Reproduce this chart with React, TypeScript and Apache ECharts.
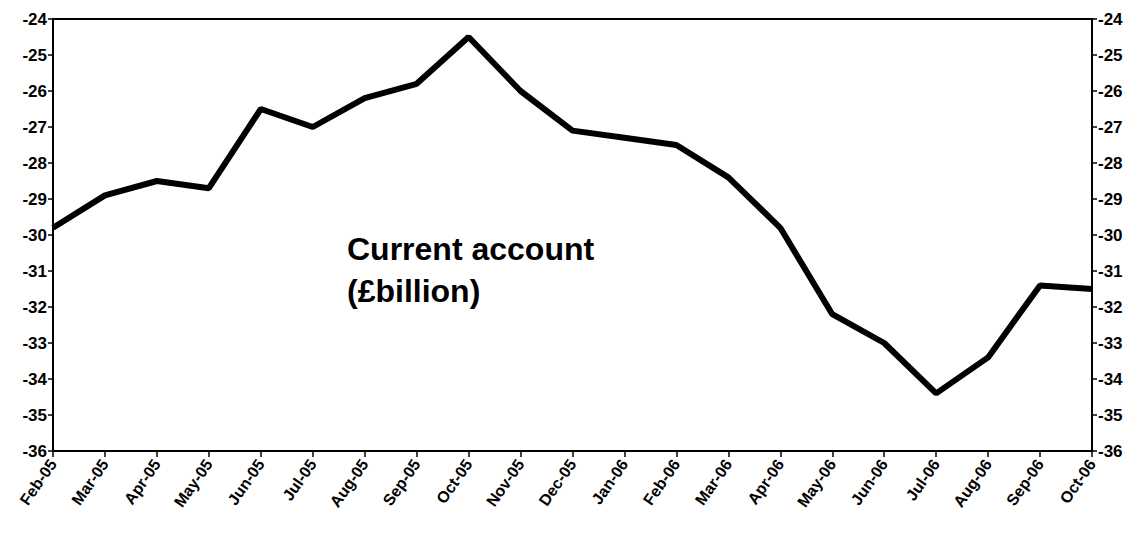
import { useEffect, useRef } from 'react';
import * as echarts from 'echarts';

const months = [
  'Feb-05', 'Mar-05', 'Apr-05', 'May-05', 'Jun-05', 'Jul-05', 'Aug-05', 'Sep-05', 'Oct-05', 'Nov-05',
  'Dec-05', 'Jan-06', 'Feb-06', 'Mar-06', 'Apr-06', 'May-06', 'Jun-06', 'Jul-06', 'Aug-06', 'Sep-06', 'Oct-06',
];
const currentAccount = [
  -29.8, -28.9, -28.5, -28.7, -26.5, -27.0, -26.2, -25.8, -24.5, -26.0,
  -27.1, -27.3, -27.5, -28.4, -29.8, -32.2, -33.0, -34.4, -33.4, -31.4, -31.5,
];

const font = 'Arial, "Liberation Sans", sans-serif';

export default function App() {
  const ref = useRef<HTMLDivElement>(null);

  useEffect(() => {
    document.body.style.margin = '0';
    if (!ref.current) return;
    const chart = echarts.init(ref.current, undefined, { renderer: 'svg' });
    const yAxisBase = {
      type: 'value' as const,
      min: -36,
      max: -24,
      interval: 1,
      axisLine: { show: true, lineStyle: { color: '#000', width: 2 } },
      axisTick: { show: true, length: 5, lineStyle: { color: '#000', width: 1.5 } },
      splitLine: { show: false },
      axisLabel: { color: '#000', fontWeight: 'bold' as const, fontSize: 17, fontFamily: font, margin: 6 },
    };
    chart.setOption({
      animation: false,
      grid: { left: 53, right: 53, top: 19, bottom: 90 },
      xAxis: {
        type: 'category',
        data: months,
        boundaryGap: false,
        axisLine: { lineStyle: { color: '#000', width: 2 } },
        axisTick: { show: true, length: 6, alignWithLabel: true, lineStyle: { color: '#000', width: 1.5 } },
        axisLabel: {
          color: '#000', fontWeight: 'bold', fontSize: 16, fontFamily: font,
          rotate: 55, interval: 0, margin: 10,
        },
      },
      yAxis: [
        { ...yAxisBase, position: 'left' },
        { ...yAxisBase, position: 'right' },
      ],
      graphic: [
        {
          type: 'text', left: 347, top: 228,
          style: {
            text: 'Current account\n(£billion)', fill: '#000', lineHeight: 42,
            font: `bold 32px ${font}`,
          },
        },
        {
          type: 'rect', shape: { x: 53, y: 19, width: 1039, height: 432 },
          style: { fill: 'none', stroke: '#000', lineWidth: 2 }, silent: true,
        },
      ],
      series: [
        {
          type: 'line',
          data: currentAccount,
          symbol: 'none',
          lineStyle: { color: '#000', width: 6 },
        },
      ],
    });
    return () => chart.dispose();
  }, []);

  return <div ref={ref} style={{ width: 1145, height: 541 }} />;
}
